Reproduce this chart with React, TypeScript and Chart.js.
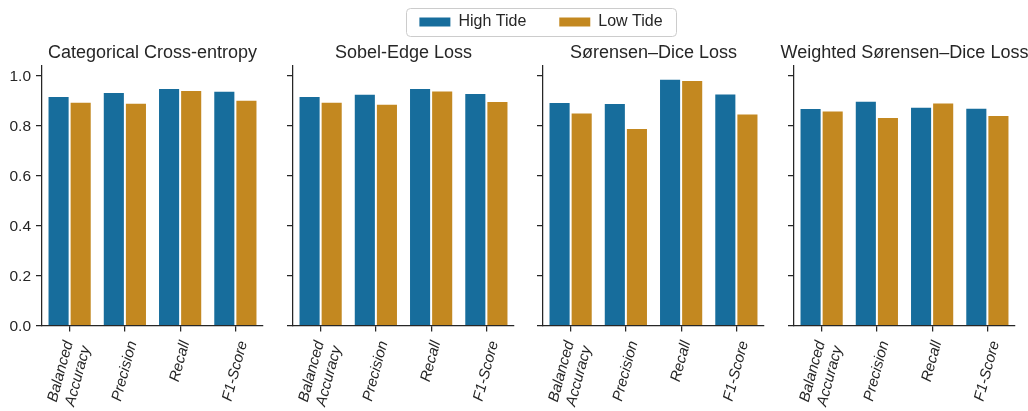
import React, { useEffect, useRef } from 'react';
import { Chart, registerables } from 'chart.js';

Chart.register(...registerables);

// ---- data ----
const seriesNames = ['High Tide', 'Low Tide'];
const seriesColors = ['#176d9c', '#c38820'];
const metricLabels = [['Balanced', 'Accuracy'], ['Precision'], ['Recall'], ['F1-Score']];
const lossTitles = [
  'Categorical Cross-entropy',
  'Sobel-Edge Loss',
  'Sørensen–Dice Loss',
  'Weighted Sørensen–Dice Loss',
];
const cceHigh = [0.917, 0.933, 0.949, 0.938];
const cceLow = [0.894, 0.89, 0.941, 0.902];
const sobelHigh = [0.917, 0.926, 0.949, 0.929];
const sobelLow = [0.894, 0.886, 0.939, 0.897];
const diceHigh = [0.893, 0.889, 0.986, 0.927];
const diceLow = [0.851, 0.789, 0.981, 0.847];
const wdiceHigh = [0.869, 0.898, 0.874, 0.87];
const wdiceLow = [0.859, 0.833, 0.891, 0.841];
const yTicks = [0, 0.2, 0.4, 0.6, 0.8, 1.0];
const yMax = 1.037;

const panelHigh = [cceHigh, sobelHigh, diceHigh, wdiceHigh];
const panelLow = [cceLow, sobelLow, diceLow, wdiceLow];

// ---- style ----
const FONT = '"Liberation Sans", Arial, Helvetica, sans-serif';
const TEXT = '#262626';
const AXIS = '#262626';
const panelLefts = [0, 250.5, 501, 751.5];
const Y_W = 42;
const AREA_W = 221;
const CANVAS_W = Y_W + AREA_W + Y_W;
const CANVAS_H = 411;

const rotatedLabelPlugin = {
  id: 'rotatedLabels',
  afterDraw(chart: any) {
    const xs = chart.scales.x;
    const ctx = chart.ctx;
    const fs = 15;
    const th = (75 * Math.PI) / 180;
    const lh = fs * 1.2;
    const y0 = xs.top + 6 + 8;
    ctx.save();
    ctx.font = `italic ${fs}px ${FONT}`;
    ctx.fillStyle = TEXT;
    const labels = chart.data.labels as string[][];
    labels.forEach((lines, i) => {
      const arr = Array.isArray(lines) ? lines : [String(lines)];
      const px = xs.getPixelForTick(i);
      const W = Math.max(...arr.map((l) => ctx.measureText(l).width));
      const H = fs * 0.94 + lh * (arr.length - 1);
      const bh = W * Math.sin(th) + H * Math.cos(th);
      ctx.save();
      ctx.translate(px, y0 + bh / 2);
      ctx.rotate(-th);
      ctx.textAlign = 'center';
      ctx.textBaseline = 'alphabetic';
      arr.forEach((ln, j) => ctx.fillText(ln, 0, -H / 2 + fs * 0.73 + j * lh));
      ctx.restore();
    });
    ctx.restore();
  },
};

function Panel({ idx }: { idx: number }) {
  const ref = useRef<HTMLCanvasElement>(null);
  useEffect(() => {
    const showY = idx === 0;
    const chart = new Chart(ref.current as HTMLCanvasElement, {
      type: 'bar',
      data: {
        labels: metricLabels as any,
        datasets: [
          {
            label: seriesNames[0],
            data: panelHigh[idx],
            backgroundColor: seriesColors[0],
            borderColor: '#ffffff',
            borderWidth: 1,
            categoryPercentage: 0.8,
            barPercentage: 1.0,
          },
          {
            label: seriesNames[1],
            data: panelLow[idx],
            backgroundColor: seriesColors[1],
            borderColor: '#ffffff',
            borderWidth: 1,
            categoryPercentage: 0.8,
            barPercentage: 1.0,
          },
        ],
      },
      options: {
        animation: false,
        responsive: false,
        maintainAspectRatio: false,
        layout: { padding: { top: 32, left: 0, right: 0, bottom: 0 } },
        plugins: {
          legend: { display: false },
          tooltip: { enabled: false },
          title: {
            display: true,
            text: lossTitles[idx],
            color: TEXT,
            font: { family: FONT, size: 18, weight: 'normal', lineHeight: 1.2 },
            padding: { top: 10, bottom: 2.4 },
          },
        },
        scales: {
          x: {
            type: 'category',
            offset: true,
            grid: {
              display: true,
              offset: false,
              drawOnChartArea: false,
              drawTicks: true,
              tickLength: 6,
              color: AXIS,
              lineWidth: 1.25,
            },
            border: { display: true, color: AXIS, width: 1.25 },
            ticks: { display: false },
            afterFit: (s: any) => {
              s.height = 85.5;
            },
          },
          y: {
            min: 0,
            max: yMax,
            afterBuildTicks: (s: any) => {
              s.ticks = yTicks.map((v) => ({ value: v }));
            },
            ticks: {
              display: showY,
              callback: (v: any) => Number(v).toFixed(1),
              color: TEXT,
              font: { family: FONT, size: 15.5 },
              padding: 5,
              labelOffset: 1.7,
            },
            grid: {
              display: true,
              drawOnChartArea: false,
              drawTicks: true,
              tickLength: 6,
              color: AXIS,
              lineWidth: 1.25,
            },
            border: { display: true, color: AXIS, width: 1.25 },
            afterFit: (s: any) => {
              s.width = Y_W;
            },
          },
          // invisible spacer on the right so the title centres over the plot area
          yRight: {
            position: 'right',
            display: true,
            min: 0,
            max: yMax,
            grid: { display: false, drawTicks: false },
            border: { display: false },
            ticks: { display: false },
            afterFit: (s: any) => {
              s.width = Y_W;
            },
          },
        },
      } as any,
      plugins: [rotatedLabelPlugin],
    });
    return () => chart.destroy();
  }, [idx]);
  return (
    <canvas
      ref={ref}
      width={CANVAS_W}
      height={CANVAS_H}
      style={{ position: 'absolute', left: panelLefts[idx], top: 0, width: CANVAS_W, height: CANVAS_H }}
    />
  );
}

const legendFramePlugin = {
  id: 'legendFrame',
  afterDraw(chart: any) {
    const hb = chart.legend && chart.legend.legendHitBoxes;
    if (!hb || !hb.length) return;
    const ctx = chart.ctx;
    const last = hb[hb.length - 1];
    const l = hb[0].left - 13.5;
    const r = last.left + last.width + 13.5;
    const cy = hb[0].top + hb[0].height / 2;
    ctx.save();
    ctx.beginPath();
    ctx.roundRect(Math.round(l) + 0.5, Math.round(cy - 14) + 0.5, Math.round(r - l), 28, 4);
    ctx.strokeStyle = '#cccccc';
    ctx.lineWidth = 1;
    ctx.stroke();
    ctx.restore();
  },
};

function LegendBar() {
  const ref = useRef<HTMLCanvasElement>(null);
  useEffect(() => {
    const chart = new Chart(ref.current as HTMLCanvasElement, {
      type: 'bar',
      data: {
        labels: [],
        datasets: seriesNames.map((n, i) => ({
          label: n,
          data: [],
          backgroundColor: seriesColors[i],
          borderWidth: 0,
        })),
      },
      options: {
        animation: false,
        responsive: false,
        maintainAspectRatio: false,
        layout: { padding: 0 },
        scales: { x: { display: false }, y: { display: false } },
        plugins: {
          tooltip: { enabled: false },
          legend: {
            display: true,
            position: 'top',
            maxHeight: 120,
            labels: {
              boxWidth: 31,
              boxHeight: 9,
              padding: 33,
              color: TEXT,
              font: { family: FONT, size: 16 },
            },
          },
        },
      } as any,
      plugins: [legendFramePlugin],
    });
    return () => chart.destroy();
  }, []);
  return (
    <canvas
      ref={ref}
      width={1028}
      height={200}
      style={{ position: 'absolute', left: 27, top: -19, width: 1028, height: 200 }}
    />
  );
}

export default function App() {
  return (
    <div
      style={{
        position: 'absolute',
        left: 0,
        top: 0,
        width: 1028,
        height: 411,
        overflow: 'hidden',
        background: '#ffffff',
      }}
    >
      {[0, 1, 2, 3].map((i) => (
        <Panel key={i} idx={i} />
      ))}
      <LegendBar />
    </div>
  );
}
